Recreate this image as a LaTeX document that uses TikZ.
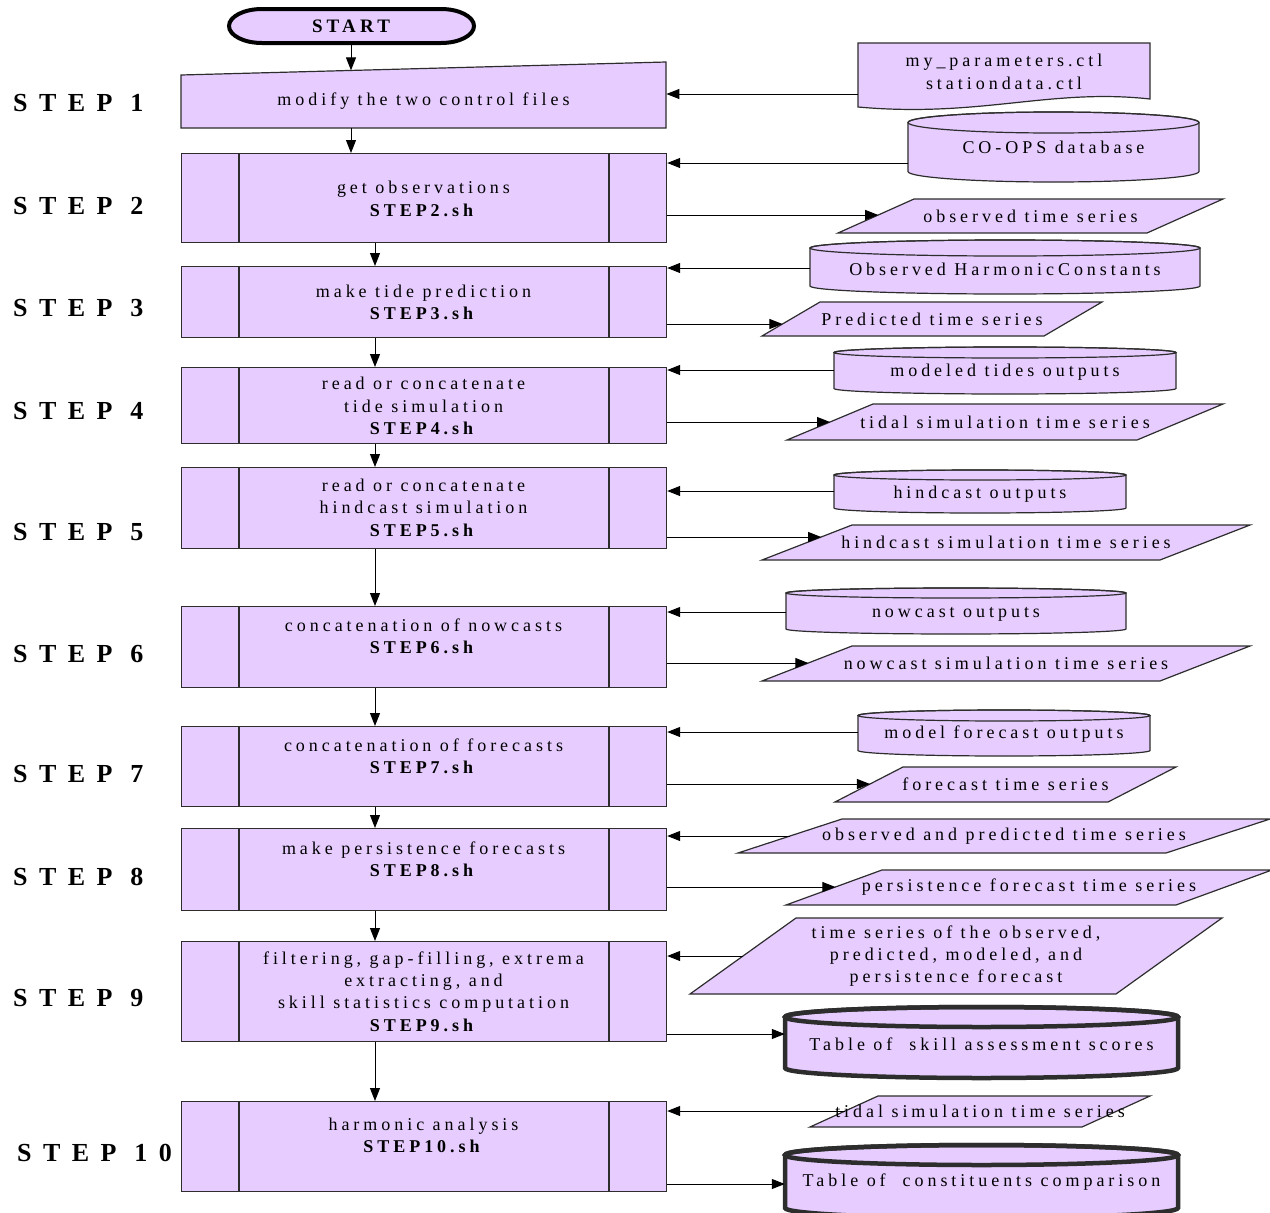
\documentclass[tikz,border=0pt]{standalone}
\usepackage{fontspec}
\setmainfont{Liberation Serif}
\newfontfamily\bodyfont[LetterSpace=22]{Liberation Serif}
\newfontfamily\labfont[LetterSpace=44]{Liberation Serif}
\usetikzlibrary{arrows.meta,calc}
\definecolor{lav}{RGB}{230,204,255}
\definecolor{edge}{RGB}{45,45,45}
\tikzset{
  txt/.style={font=\bodyfont\fontsize{18}{22.4}\selectfont, align=center, inner sep=0pt},
  steplab/.style={font=\labfont\bfseries\fontsize{26}{30}\selectfont, inner sep=0pt, anchor=west},
  shp/.style={draw=edge, fill=lav, line width=1.2pt},
  arr/.style={draw=black, line width=1pt, -{Triangle[length=13pt,width=10pt]}},
}
% process box: name, ytop, ybot
\newcommand\procbox[3]{%
  \pgfmathsetmacro\myH{#3-#2}%
  \node[shp, rectangle, inner sep=0pt, minimum width=485pt, minimum height=\myH pt, anchor=north west] (#1) at (181,#2) {};
  \draw[edge, line width=1.2pt] (239,#2) -- (239,#3) (609,#2) -- (609,#3);
}
% cylinder: name, x1, x2, ytop, ybot, ry, text, line width, text y
\newcommand\cyl[9]{%
  \pgfmathsetmacro\myCX{(#2+#3)/2}%
  \pgfmathsetmacro\myRX{(#3-#2)/2}%
  \pgfmathsetmacro\myCA{#4+#6}%
  \pgfmathsetmacro\myCB{#5-#6}%
  \filldraw[fill=lav, draw=edge, line width=#8] (#2,\myCA) -- (#2,\myCB)
     arc[start angle=180, end angle=360, x radius=\myRX pt, y radius=#6pt]
     -- (#3,\myCA)
     arc[start angle=0, end angle=180, x radius=\myRX pt, y radius=#6pt] -- cycle;
  \draw[edge, line width=#8] (\myCX,\myCA) ellipse[x radius=\myRX pt, y radius=#6pt];
  \node[txt, minimum width=2*\myRX pt] (#1) at (\myCX,#9) {#7};
}
% parallelogram: name, xBL, d, xTR, ytop, ybot, text, arrow y
\newcommand\para[8]{%
  \pgfmathsetmacro\myPA{#2+#3}%
  \pgfmathsetmacro\myPB{#4-#3}%
  \pgfmathsetmacro\myPW{#2+#3*(#6-#8)/(#6-#5)}%
  \filldraw[shp] (#2,#6) -- (\myPA,#5) -- (#4,#5) -- (\myPB,#6) -- cycle;
  \node[txt] (#1) at ({(#2+#4)/2},{(#5+#6)/2}) {#7};
  \coordinate (#1-w) at (\myPW,#8);
}
\begin{document}
\begin{tikzpicture}[x=1pt,y=-1pt]
\useasboundingbox (0,0) rectangle (1270,1213);

% START
\filldraw[fill=lav, draw=black, line width=4pt] (262,9) -- (441,9)
  arc[start angle=90, end angle=-90, x radius=33pt, y radius=17pt] -- (262,43)
  arc[start angle=270, end angle=90, x radius=33pt, y radius=17pt] -- cycle;
\node[txt, font=\bodyfont\bfseries\fontsize{19}{22}\selectfont, minimum height=34pt] (start) at (351,26) {START};

% step 1 (manual input)
\filldraw[shp] (181,75) -- (666,62) -- (666,128) -- (181,128) -- cycle;
\node[inner sep=0pt, minimum width=485pt, minimum height=66pt, anchor=north west] (s1) at (181,62) {};
\coordinate (s1top) at (351,70.4);
\node[txt] (t1) at (423.5,101) {modify the two control files};

% process boxes
\procbox{s2}{153}{242}
\procbox{s3}{266}{337}
\procbox{s4}{367}{443}
\procbox{s5}{467}{548}
\procbox{s6}{606}{687}
\procbox{s7}{726}{806}
\procbox{s8}{828}{910}
\procbox{s9}{941}{1041}
\procbox{s10}{1101}{1191}

\node[txt] (t2) at (423.5,199) {get observations\\\textbf{STEP2.sh}};
\node[txt] (t3) at (423.5,302.5) {make tide prediction\\\textbf{STEP3.sh}};
\node[txt] (t4) at (423.5,406) {read or concatenate\\tide simulation\\\textbf{STEP4.sh}};
\node[txt] (t5) at (423.5,507.5) {read or concatenate\\hindcast simulation\\\textbf{STEP5.sh}};
\node[txt] (t6) at (423.5,636) {concatenation of nowcasts\\\textbf{STEP6.sh}};
\node[txt] (t7) at (423.5,756.5) {concatenation of forecasts\\\textbf{STEP7.sh}};
\node[txt] (t8) at (423.5,859.5) {make persistence forecasts\\\textbf{STEP8.sh}};
\node[txt] (t9) at (423.5,991.5) {filtering, gap-filling, extrema\\extracting, and\\skill statistics computation\\\textbf{STEP9.sh}};
\node[txt] (t10) at (423.5,1135.5) {harmonic analysis\\\textbf{STEP10.sh}};

% step labels
\node[steplab] (l1) at (13,103) {STEP 1};
\node[steplab] (l2) at (13,206) {STEP 2};
\node[steplab] (l3) at (13,308) {STEP 3};
\node[steplab] (l4) at (13,411) {STEP 4};
\node[steplab] (l5) at (13,532) {STEP 5};
\node[steplab] (l6) at (13,654) {STEP 6};
\node[steplab] (l7) at (13,774) {STEP 7};
\node[steplab] (l8) at (13,877) {STEP 8};
\node[steplab] (l9) at (13,998) {STEP 9};
\node[steplab] (l10) at (17,1153) {STEP 10};

% document
\filldraw[shp] (858,43) -- (1150,43) -- (1150,99) .. controls (1050,88) and (980,118) .. (858,107) -- cycle;
\node[txt, minimum width=292pt] (doc) at (1004,72) {my\_parameters.ctl\\stationdata.ctl};

% cylinders
\cyl{coops}{908}{1199}{112}{182}{10.5}{CO-OPS database}{1.2pt}{147}
\cyl{obsharm}{810}{1200}{240}{294}{8}{Observed HarmonicConstants}{1.2pt}{269}
\cyl{modeled}{834}{1176}{347}{394}{5.5}{modeled tides outputs}{1.2pt}{372}
\cyl{hindout}{834}{1126}{470}{513}{5}{hindcast outputs}{1.2pt}{494}
\cyl{nowout}{786}{1126}{588}{634}{5}{nowcast outputs}{1.2pt}{614}
\cyl{mfout}{858}{1150}{710}{756}{5.5}{model forecast outputs}{1.2pt}{734}
\cyl{skill}{785}{1178}{1007}{1078}{10}{Table of\ \ skill assessment scores}{4.5pt}{1044}
\cyl{const}{785}{1178}{1145}{1218}{10}{Table of\ \ constituents comparison}{4.5pt}{1182}

% parallelograms
\para{obs}{838}{76}{1223}{199}{233}{observed time series}{215}
\para{pred}{762}{58}{1102}{302}{336}{Predicted time series}{324}
\para{tidal}{787}{86}{1223}{404}{440}{tidal simulation time series}{422}
\para{hindsim}{762}{90}{1250}{525}{560}{hindcast simulation time series}{537}
\para{nowsim}{762}{90}{1250}{646}{681}{nowcast simulation time series}{663}
\para{fc}{835}{68}{1176}{767}{802}{forecast time series}{784}
\para{obspred}{738}{104}{1270}{819}{853}{observed and predicted time series}{836}
\para{pers}{786}{96}{1272}{870}{905}{persistence forecast time series}{887}
\para{big}{690}{106}{1222}{918}{994}{time series of the observed,\\predicted, modeled, and\\persistence forecast}{956}
\para{tidaltwo}{810}{68}{1150}{1096}{1127}{tidal simulation time series}{1111}

% vertical flow
\coordinate (col) at (375,0);
\draw[arr] (start.south) -- (s1top);
\draw[arr] (s1.south -| start) -- (s2.north -| start);
\foreach \a/\b in {s2/s3,s3/s4,s4/s5,s5/s6,s6/s7,s7/s8,s8/s9,s9/s10}
  \draw[arr] (\a.south -| col) -- (\b.north -| col);

% inputs
\draw[arr] (doc.west |- 0,94) -- (s1.east |- 0,94);
\draw[arr] (coops.west |- 0,163) -- (s2.east |- 0,163);
\draw[arr] (obsharm.west |- 0,268) -- (s3.east |- 0,268);
\draw[arr] (modeled.west |- 0,370) -- (s4.east |- 0,370);
\draw[arr] (hindout.west |- 0,491) -- (s5.east |- 0,491);
\draw[arr] (nowout.west |- 0,612) -- (s6.east |- 0,612);
\draw[arr] (mfout.west |- 0,732) -- (s7.east |- 0,732);
\draw[arr] (obspred-w) -- (s8.east |- obspred-w);
\draw[arr] (big-w) -- (s9.east |- big-w);
\draw[arr] (tidaltwo-w) -- (s10.east |- tidaltwo-w);

% outputs
\draw[arr] (s2.east |- obs-w) -- (obs-w);
\draw[arr] (s3.east |- pred-w) -- (pred-w);
\draw[arr] (s4.east |- tidal-w) -- (tidal-w);
\draw[arr] (s5.east |- hindsim-w) -- (hindsim-w);
\draw[arr] (s6.east |- nowsim-w) -- (nowsim-w);
\draw[arr] (s7.east |- fc-w) -- (fc-w);
\draw[arr] (s8.east |- pers-w) -- (pers-w);
\draw[arr] (s9.east |- 0,1034) -- (skill.west |- 0,1034);
\draw[arr] (s10.east |- 0,1184) -- (const.west |- 0,1184);
\end{tikzpicture}
\end{document}
